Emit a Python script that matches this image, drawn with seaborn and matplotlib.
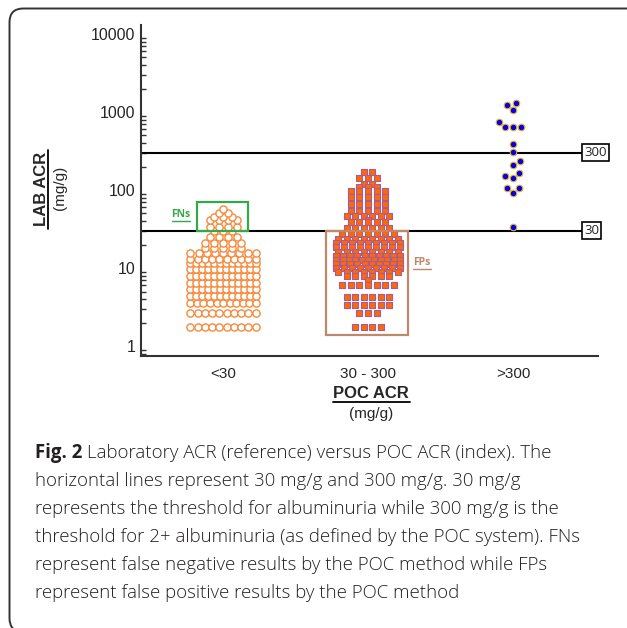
import numpy as np
import pandas as pd
import matplotlib
matplotlib.use("Agg")
import matplotlib.pyplot as plt
from matplotlib.lines import Line2D
from matplotlib.patches import Rectangle, FancyBboxPatch
from matplotlib.ticker import LogLocator, NullFormatter
import seaborn as sns

# categories on the x axis
groups = ["<30", "30-300", ">300"]
group_labels = ["<30", "30 - 300", ">300"]

# LAB ACR levels (mg/g) and how many patients sit at each level, per POC group
lt30_levels = [1.77, 2.62, 3.53, 4.37, 5.38, 6.48, 7.88, 9.62, 11.5, 13.0, 15.7,
               17.9, 20.7, 25.2, 30.1, 33.8, 41.2, 45.5, 51.2, 56.4]
lt30_counts = [10, 10, 11, 12, 12, 12, 12, 12, 12, 10, 9,
               5, 5, 4, 3, 4, 4, 3, 2, 1]

mid_levels = [169, 143, 119, 109, 97, 81, 66, 54, 46, 41, 39, 32.5, 27, 23.5, 21,
              18.5, 16, 14.2, 12.6, 11.2, 10, 8.9, 7.9, 7, 6, 4.25, 3.35, 2.65, 1.75]
mid_counts = [2, 3, 2, 3, 5, 5, 5, 5, 6, 1, 5, 6, 7, 8, 9,
              9, 8, 10, 11, 10, 9, 8, 6, 1, 7, 6, 6, 3, 4]

gt300_values = [1300, 1230, 1060, 745, 650, 640, 640, 390, 307, 235, 209,
                165, 151, 142, 106, 106, 92, 33.6]

thresholds = [30, 300]


def row_layout(levels, counts, center, step, max_span):
    # points sharing a level are spread in a centred row, squeezed if the row is long
    xs, ys = [], []
    for lev, n in zip(levels, counts):
        st = step if n < 2 else min(step, max_span / (n - 1))
        xs.extend(center + (np.arange(n) - (n - 1) / 2) * st)
        ys.extend([lev] * n)
    return np.array(xs), np.array(ys)


x1, y1 = row_layout(lt30_levels, lt30_counts, 0, 0.062, 0.45)
x2, y2 = row_layout(mid_levels, mid_counts, 1, 0.059, 0.44)
lt30 = pd.DataFrame({"poc": x1, "lab": y1})
mid = pd.DataFrame({"poc": x2, "lab": y2})
gt300 = pd.DataFrame({"poc": 2.0, "lab": gt300_values})

sns.set_style("white")
plt.rcParams["font.family"] = ["Liberation Sans", "DejaVu Sans"]

W, H = 627, 628
fig = plt.figure(figsize=(W / 100, H / 100), dpi=100)


def fx(x):
    return x / W


def fy(y):
    return 1 - y / H


ax = fig.add_axes([fx(141), fy(356), (598 - 141) / W, (356 - 25) / H])
ax.set_yscale("log")

sns.scatterplot(data=lt30, x="poc", y="lab", ax=ax, marker="o", s=27,
                color="white", edgecolor="#F58A3C", linewidth=1.0, zorder=3)
sns.scatterplot(data=mid, x="poc", y="lab", ax=ax, marker="s", s=25,
                color="#FF6A00", edgecolor="#A85A9E", linewidth=0.8, zorder=3)
sns.swarmplot(data=gt300, x="poc", y="lab", ax=ax, native_scale=True, marker="o",
              size=4.7, color="#0000F0", edgecolor="#E8B020", linewidth=0.8, zorder=3)

ax.set_xlim(-0.566, 2.586)
ax.set_ylim(0.745, 13040)

# threshold lines with boxed labels
ax.hlines(thresholds, -0.566, 2.476, color="black", lw=1.5, zorder=1)
for t in thresholds:
    ax.text(2.49, t, str(t), ha="left", va="center", fontsize=9.5,
            family="Open Sans", clip_on=False,
            bbox=dict(boxstyle="square,pad=0.15", fc="white", ec="black", lw=1.2))

# FN / FP boxes
ax.add_patch(Rectangle((-0.18, 30), 0.35, 40, fill=False, ec="#35A84A", lw=1.6, zorder=5))
ax.add_patch(Rectangle((0.71, 1.38), 0.566, 28.62, fill=False, ec="#C0886A", lw=1.6, zorder=5))
ax.text(-0.29, 49, "FNs", color="#35A84A", fontsize=7.5, fontweight="bold",
        family="Open Sans", ha="center", va="center")
ax.text(1.37, 11.9, "FPs", color="#C0886A", fontsize=7.5, fontweight="bold",
        family="Open Sans", ha="center", va="center")

# axes styling
sns.despine(ax=ax)
for s in ["left", "bottom"]:
    ax.spines[s].set_linewidth(1.5)
    ax.spines[s].set_color("#333333")
ax.set_yticks([1, 10, 100, 1000, 10000], labels=["1", "10", "100", "1000", "10000"])
ax.yaxis.set_minor_locator(LogLocator(base=10, subs=np.arange(2, 10)))
ax.yaxis.set_minor_formatter(NullFormatter())
ax.set_xticks(range(3), labels=group_labels)
ax.tick_params(axis="both", which="major", direction="in", length=7, width=1.3,
               color="#333333", labelsize=11, pad=6)
ax.tick_params(axis="y", which="minor", direction="in", length=3.5, width=1.0,
               color="#333333", left=True)
ax.tick_params(axis="y", which="major", pad=4, labelsize=11.5)
ax.tick_params(axis="x", which="major", pad=8)
ax.set_xlabel("")
ax.set_ylabel("")

# axis titles with underlines
fig.text(fx(41), fy(189), "LAB ACR", rotation=90, fontsize=12, fontweight="bold",
         ha="center", va="center")
fig.text(fx(60), fy(188), "(mg/g)", rotation=90, fontsize=11, ha="center", va="center")
fig.add_artist(Line2D([fx(48), fx(48)], [fy(150), fy(229)], color="black", lw=1.3))
fig.text(fx(371), fy(393), "POC ACR", fontsize=12, fontweight="bold",
         ha="center", va="center")
fig.text(fx(371), fy(414), "(mg/g)", fontsize=11, ha="center", va="center")
fig.add_artist(Line2D([fx(333), fx(410)], [fy(402), fy(402)], color="black", lw=1.3))
fig.add_artist(Line2D([fx(172), fx(190)], [fy(221), fy(221)], color="#35A84A", lw=1.0))
fig.add_artist(Line2D([fx(413), fx(431)], [fy(269), fy(269)], color="#C0886A", lw=1.0))

# caption
cap_kw = dict(family="Open Sans", fontsize=13.4, color="#231F20", va="center", ha="left")
fig_lbl = fig.text(fx(35), fy(453), "Fig. 2", fontweight="bold", **cap_kw)
fig.canvas.draw()
bb = fig_lbl.get_window_extent()
fig.text((bb.x1 + 5) / W, fy(453), "Laboratory ACR (reference) versus POC ACR (index). The",
         fontweight="light", **cap_kw)
caption_lines = [
    "horizontal lines represent 30 mg/g and 300 mg/g. 30 mg/g",
    "represents the threshold for albuminuria while 300 mg/g is the",
    "threshold for 2+ albuminuria (as defined by the POC system). FNs",
    "represent false negative results by the POC method while FPs",
    "represent false positive results by the POC method",
]
for i, line in enumerate(caption_lines):
    fig.text(fx(35), fy(481 + 28 * i), line, fontweight="light", **cap_kw)

# rounded frame around the figure
fig.add_artist(FancyBboxPatch((fx(9.5), fy(632)), (660 - 9.5) / W, (632 - 8.5) / H,
                              boxstyle="round,pad=0,rounding_size=0.022",
                              fill=False, ec="#333333", lw=1.4,
                              transform=fig.transFigure))

fig.savefig("out.png", dpi=100)
